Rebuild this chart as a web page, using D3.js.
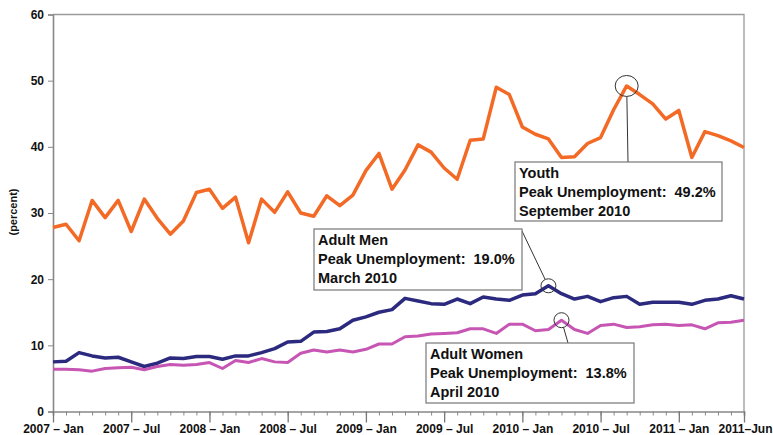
<!DOCTYPE html>
<html>
<head>
<meta charset="utf-8">
<script src="https://cdn.jsdelivr.net/npm/d3@7"></script>
<style>
  body { margin: 0; background: #fff; }
  text { font-family: "Liberation Sans", Arial, sans-serif; font-weight: bold; fill: #111; }
</style>
</head>
<body>
<div class="chart"></div>
<script>
// monthly, 2007-Jan .. 2011-Jun
const months = d3.range(54);
const tickLabels = ["2007 – Jan", "2007 – Jul", "2008 – Jan", "2008 – Jul", "2009 – Jan", "2009 – Jul", "2010 – Jan", "2010 – Jul", "2011 – Jan", "2011–Jun"];
const tickMonths = [0, 6, 12, 18, 24, 30, 36, 42, 48, 53];

const youth = [27.8, 28.3, 25.8, 31.9, 29.3, 31.9, 27.2, 32.1, 29.2, 26.8, 28.8, 33.1,
    33.6, 30.7, 32.4, 25.5, 32.1, 30.1, 33.2, 30.0, 29.5, 32.6, 31.1, 32.7,
    36.4, 39.0, 33.6, 36.5, 40.3, 39.2, 36.8, 35.1, 41.0, 41.2, 49.0, 47.9,
    43.0, 41.9, 41.2, 38.4, 38.5, 40.5, 41.4, 45.6, 49.2, 47.9, 46.5, 44.2,
    45.5, 38.4, 42.3, 41.7, 40.9, 39.9];
const adultMen = [7.5, 7.6, 8.9, 8.4, 8.1, 8.2, 7.5, 6.8, 7.3, 8.1, 8.0, 8.3,
    8.3, 7.9, 8.4, 8.4, 8.9, 9.5, 10.5, 10.6, 12.0, 12.1, 12.5, 13.8,
    14.3, 15.0, 15.4, 17.1, 16.7, 16.3, 16.2, 17.0, 16.3, 17.3, 17.0, 16.8,
    17.6, 17.8, 19.0, 17.8, 17.0, 17.4, 16.6, 17.2, 17.4, 16.2, 16.5, 16.5,
    16.5, 16.2, 16.8, 17.0, 17.5, 17.0];
const adultWomen = [6.4, 6.4, 6.3, 6.1, 6.5, 6.6, 6.7, 6.3, 6.8, 7.1, 7.0, 7.1,
    7.4, 6.5, 7.7, 7.4, 8.0, 7.5, 7.4, 8.8, 9.3, 9.0, 9.3, 9.0,
    9.4, 10.2, 10.2, 11.3, 11.4, 11.7, 11.8, 11.9, 12.5, 12.5, 11.8, 13.2,
    13.2, 12.2, 12.4, 13.8, 12.4, 11.8, 13.0, 13.2, 12.7, 12.8, 13.1, 13.2,
    13.0, 13.1, 12.5, 13.4, 13.5, 13.8];

const series = [
  {name: "Youth", values: youth, color: "#f26a25", width: 3.5},
  {name: "Adult Men", values: adultMen, color: "#2b2a7e", width: 3.5},
  {name: "Adult Women", values: adultWomen, color: "#c655b4", width: 3}
];

// peak call-outs: month index of the peak, box corner, leader end
const notes = [
  {lines: ["Youth", "Peak Unemployment:  49.2%", "September 2010"], s: 0, m: 44, rx: 11.5, ry: 10.5, box: [515, 162, 207, 59], lead: [628, 162]},
  {lines: ["Adult Men", "Peak Unemployment:  19.0%", "March 2010"], s: 1, m: 38, rx: 7.5, ry: 7, box: [314, 229, 208, 61], lead: [522, 231]},
  {lines: ["Adult Women", "Peak Unemployment:  13.8%", "April 2010"], s: 2, m: 39, rx: 7.5, ry: 7.5, box: [426, 343, 208, 60], lead: [568, 343]}
];

const W = 773, H = 435;
const margin = {top: 14.5, right: 29, bottom: 23.5, left: 53};
const width = W - margin.left - margin.right,
      height = H - margin.top - margin.bottom;

const svg = d3.select(".chart").append("svg")
    .attr("width", W)
    .attr("height", H);
const g = svg.append("g")
    .attr("transform", `translate(${margin.left},${margin.top})`);

const x = d3.scaleLinear().domain([0, 53]).range([0, width]);
const y = d3.scaleLinear().domain([0, 60]).range([height, 0]);

// frame (top + right)
g.append("path")
    .attr("d", `M0,0H${width}V${height}`)
    .attr("fill", "none")
    .attr("stroke", "#9a9a9a")
    .attr("stroke-width", 1.3);

// y axis
const yAxis = g.append("g")
    .call(d3.axisLeft(y).tickValues([0, 10, 20, 30, 40, 50, 60]).tickSize(5).tickPadding(4));
yAxis.select(".domain").attr("stroke", "#888").attr("stroke-width", 1.6);
yAxis.selectAll(".tick line").attr("stroke", "#888");
yAxis.selectAll("text").style("font-size", "12px").attr("fill", "#111");

// x axis: minor monthly ticks, major every 6 months
const xMinor = g.append("g")
    .attr("transform", `translate(0,${height})`)
    .call(d3.axisBottom(x).tickValues(months).tickSize(4).tickFormat(""));
xMinor.select(".domain").attr("stroke", "#888").attr("stroke-width", 1.6);
xMinor.selectAll(".tick line").attr("stroke", "#888");

const xMajor = g.append("g")
    .attr("transform", `translate(0,${height})`)
    .call(d3.axisBottom(x).tickValues(tickMonths).tickSize(11).tickPadding(2)
        .tickFormat((d, i) => tickLabels[i]));
xMajor.select(".domain").remove();
xMajor.selectAll(".tick line").attr("stroke", "#777").attr("stroke-width", 1.3);
xMajor.selectAll("text")
    .style("font-size", "12px")
    .attr("fill", "#111")
    .filter(d => d === 53)
    .attr("text-anchor", "end")
    .attr("dx", 28);

// y label
svg.append("text")
    .attr("transform", "translate(17,212)rotate(-90)")
    .attr("text-anchor", "middle")
    .style("font-size", "11px")
    .text("(percent)");

// lines
const line = d3.line().x((d, i) => x(i)).y(d => y(d));
g.selectAll(".series")
    .data(series)
    .enter()
    .append("path")
    .attr("class", "series")
    .attr("d", d => line(d.values))
    .attr("fill", "none")
    .attr("stroke", d => d.color)
    .attr("stroke-width", d => d.width)
    .attr("stroke-linejoin", "round");

// call-outs
notes.forEach(n => {
    const cx = margin.left + x(n.m),
          cy = margin.top + y(series[n.s].values[n.m]);
    const [bx, by, bw, bh] = n.box;
    // leader from ellipse edge to the box
    const ang = Math.atan2(n.lead[1] - cy, n.lead[0] - cx);
    svg.append("line")
        .attr("x1", cx + n.rx * Math.cos(ang))
        .attr("y1", cy + n.ry * Math.sin(ang))
        .attr("x2", n.lead[0])
        .attr("y2", n.lead[1])
        .attr("stroke", "#333")
        .attr("stroke-width", 1);
    svg.append("ellipse")
        .attr("cx", cx).attr("cy", cy)
        .attr("rx", n.rx).attr("ry", n.ry)
        .attr("fill", "none")
        .attr("stroke", "#333")
        .attr("stroke-width", 1);
    svg.append("rect")
        .attr("x", bx).attr("y", by)
        .attr("width", bw).attr("height", bh)
        .attr("fill", "#fff")
        .attr("stroke", "#777")
        .attr("stroke-width", 1.2);
    svg.append("g")
        .selectAll("text")
        .data(n.lines)
        .enter()
        .append("text")
        .attr("x", bx + 4)
        .attr("y", (d, i) => by + 16 + i * 19)
        .style("font-size", "14.5px")
        .style("white-space", "pre")
        .text(d => d);
});
</script>
</body>
</html>
